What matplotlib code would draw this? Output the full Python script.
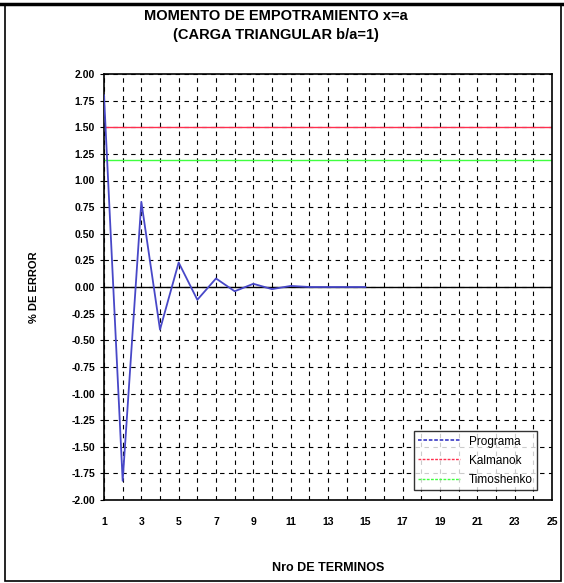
import matplotlib.pyplot as plt
import numpy as np
from matplotlib.patches import Rectangle

plt.rcParams['font.family'] = ['Liberation Sans', 'DejaVu Sans']

# error (%) of the clamped-edge moment vs number of series terms
terminos = [1, 2, 3, 4, 5, 6, 7, 8, 9, 10, 11, 12, 13, 14, 15]
programa = [1.80, -1.82, 0.80, -0.40, 0.23, -0.12, 0.08, -0.04, 0.03, -0.02, 0.01, 0.0, 0.0, 0.0, 0.0]
kalmanok = 1.50
timoshenko = 1.19

fig = plt.figure(figsize=(5.64, 5.83), dpi=100)
ax = fig.add_axes([104 / 564, 83 / 583, 448 / 564, 426 / 583])

ax.plot(terminos, programa, color='#4848c8', lw=1.3, label='Programa', zorder=3)
ax.axhline(kalmanok, color='#ff3050', lw=1.0, label='Kalmanok', zorder=2)
ax.axhline(timoshenko, color='#40ff40', lw=1.0, label='Timoshenko', zorder=2)
ax.axhline(0, color='black', lw=1.0, zorder=2)

ax.set_xlim(1, 25)
ax.set_ylim(-2, 2)
ax.set_xticks(np.arange(1, 26, 2))
ax.set_xticks(np.arange(1, 26, 1), minor=True)
ax.set_yticks(np.arange(-2, 2.01, 0.25))
ax.set_yticklabels([f'{v:.2f}' for v in np.arange(-2, 2.01, 0.25)])
ax.grid(True, which='both', color='black', ls=(0, (4, 4)), lw=0.8)
ax.tick_params(axis='x', which='both', length=0, pad=12, labelsize=7.5)
ax.tick_params(axis='y', length=3, labelsize=7.5)
for t in ax.get_xticklabels() + ax.get_yticklabels():
    t.set_fontweight('bold')
for s in ax.spines.values():
    s.set_linewidth(1.2)

ax.set_xlabel('Nro DE TERMINOS', fontsize=9, fontweight='bold')
ax.set_ylabel('% DE ERROR', fontsize=8, fontweight='bold')
ax.xaxis.set_label_coords(0.5, -0.145)
ax.yaxis.set_label_coords(-0.145, 0.5)

fig.text(276 / 564, 1 - 16 / 583, 'MOMENTO DE EMPOTRAMIENTO x=a', ha='center', va='center',
         fontsize=10.5, fontweight='bold')
fig.text(276 / 564, 1 - 35 / 583, '(CARGA TRIANGULAR b/a=1)', ha='center', va='center',
         fontsize=10.5, fontweight='bold')

leg = ax.legend(loc='lower right', bbox_to_anchor=(0.98, 0.01), fontsize=8.5, frameon=True,
                fancybox=False, edgecolor='black', handlelength=3.5, borderpad=0.35,
                labelspacing=0.6)
leg.get_frame().set_linewidth(1.0)
for line in leg.get_lines():
    line.set_linestyle((0, (2, 1)))

# outer frame, heavier along the top
fig.patches.append(Rectangle((0.008, 0.003), 0.987, 0.99, transform=fig.transFigure,
                             fill=False, edgecolor='black', lw=1.2))
fig.add_artist(plt.Line2D([0.0, 1.0], [0.993, 0.993], transform=fig.transFigure,
                          color='black', lw=2.5))

fig.savefig('out.png', dpi=100)
